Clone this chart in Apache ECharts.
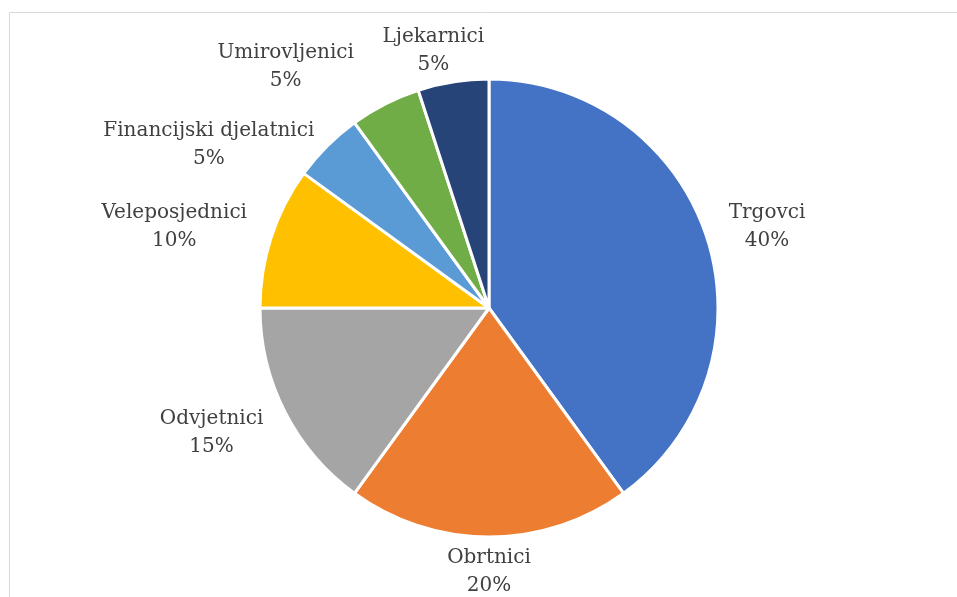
<!DOCTYPE html>
<html>
<head>
<meta charset="utf-8">
<script src="https://cdn.jsdelivr.net/npm/echarts@6/dist/echarts.min.js"></script>
<style>
  html, body { margin: 0; padding: 0; background: #fff; }
  #chart { width: 957px; height: 597px; }
</style>
</head>
<body>
<div id="chart"></div>
<script>
// podaci
var categories = ['Trgovci', 'Obrtnici', 'Odvjetnici', 'Veleposjednici', 'Financijski djelatnici', 'Umirovljenici', 'Ljekarnici']
var shares = [40, 20, 15, 10, 5, 5, 5]
var colors = ['#4472C4', '#ED7D31', '#A5A5A5', '#FFC000', '#5B9BD5', '#70AD47', '#264478']

var center = [489, 308]
var radius = 229
var labelGap = 17
// Excel pomakne male oznake da se ne preklapaju
var labelNudge = { 2: [-5, 5], 3: [-4, 0], 4: [-26, 23], 5: [-57, -6], 6: [-8, 4] }

var total = shares.reduce(function (a, b) { return a + b }, 0)
var midAngles = []
var acc = 0
shares.forEach(function (v) {
  var mid = (acc + v / 2) / total * 360
  midAngles.push((90 - mid) * Math.PI / 180)
  acc += v
})

var chart = echarts.init(document.getElementById('chart'))
chart.setOption({
  animation: false,
  graphic: [{
    type: 'rect',
    shape: { x: 9.5, y: 12.5, width: 1000, height: 1000 },
    style: { fill: 'none', stroke: '#d9d9d9', lineWidth: 1 },
    silent: true
  }],
  series: [{
    type: 'pie',
    center: center,
    radius: radius,
    startAngle: 90,
    clockwise: true,
    avoidLabelOverlap: false,
    itemStyle: { borderColor: '#fff', borderWidth: 3 },
    label: {
      show: true,
      position: 'outside',
      formatter: '{b}\n{c}%',
      fontFamily: 'DejaVu Serif',
      fontSize: 20,
      lineHeight: 28,
      color: '#404040',
      align: 'center'
    },
    labelLine: { show: false },
    labelLayout: function (params) {
      var i = params.dataIndex
      var a = midAngles[i]
      var w = params.labelRect.width
      var h = params.labelRect.height
      var r = radius + labelGap
      var x = center[0] + r * Math.cos(a) + (w / 2 + 8) * Math.cos(a)
      var y = center[1] - r * Math.sin(a) - (h / 2 - 10) * Math.sin(a)
      var n = labelNudge[i] || [0, 0]
      return { x: x + n[0], y: y + n[1], align: 'center', verticalAlign: 'middle' }
    },
    data: categories.map(function (c, i) {
      return { name: c, value: shares[i], itemStyle: { color: colors[i] } }
    })
  }]
})
</script>
</body>
</html>
